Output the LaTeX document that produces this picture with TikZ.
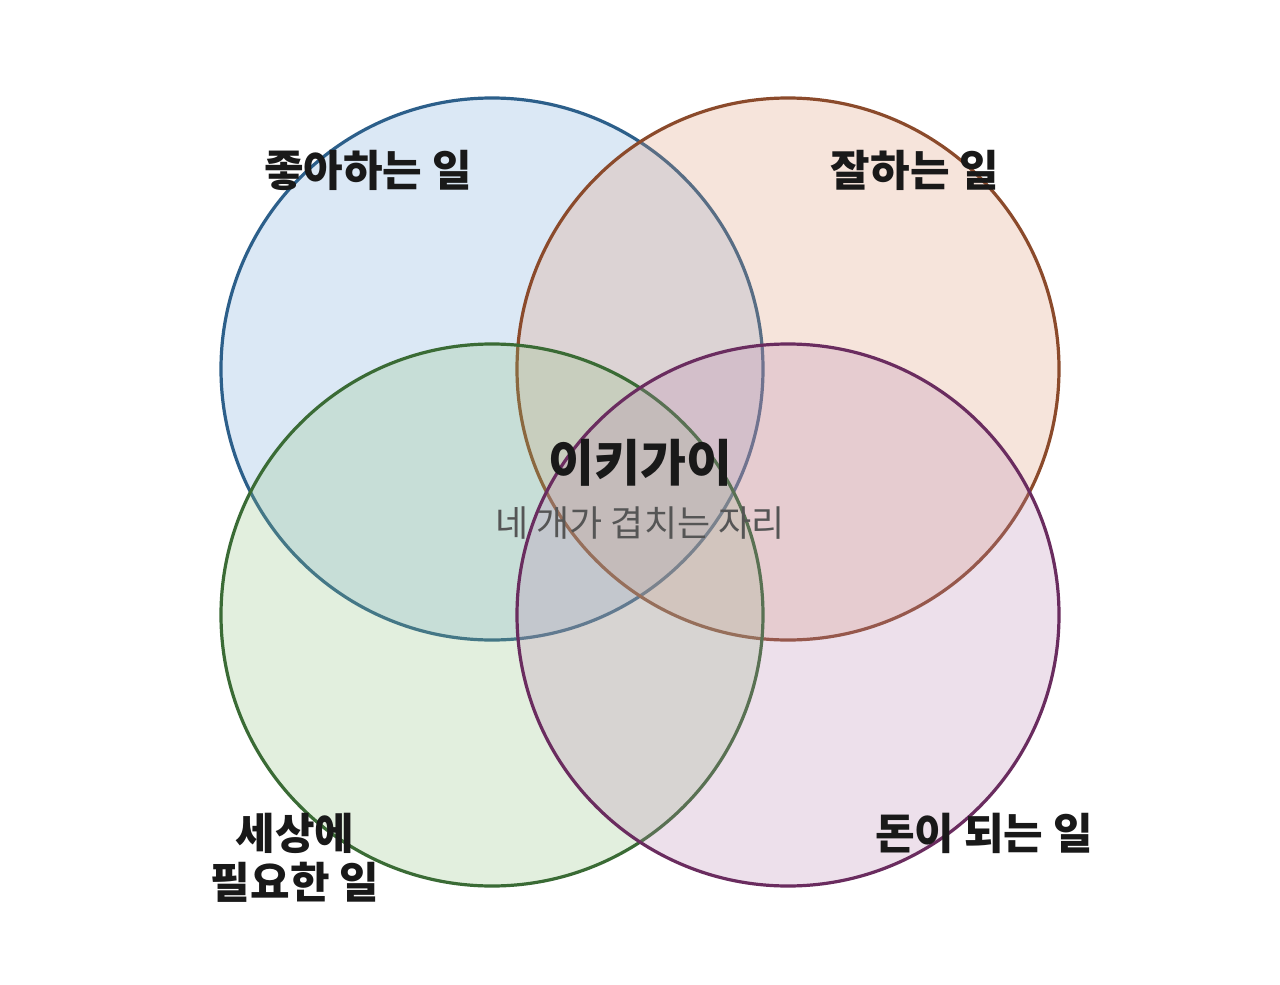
\documentclass[tikz,border=0pt]{standalone}
\usepackage{fontspec}
\setmainfont{Noto Sans CJK KR}
\newfontfamily\kr{Noto Sans CJK KR}
\definecolor{bstroke}{HTML}{2C5F8A}
\definecolor{bfill}{HTML}{73A7DB}
\definecolor{ostroke}{HTML}{8B4A2B}
\definecolor{ofill}{HTML}{DF9773}
\definecolor{gstroke}{HTML}{3A6B35}
\definecolor{gfill}{HTML}{8EC27E}
\definecolor{pstroke}{HTML}{6A2C5F}
\definecolor{pfill}{HTML}{B985B0}
\definecolor{subgrey}{HTML}{555555}
\begin{document}
\begin{tikzpicture}[x=1pt,y=-1pt,
  venn/.style={line width=3.2pt,fill opacity=0.25,draw opacity=1},
  lab/.style={font=\kr\bfseries\fontsize{43}{49}\selectfont,text=black!90,align=center,inner sep=0pt},
]
\useasboundingbox (0,0) rectangle (1280,985);
\fill[white] (0,0) rectangle (1280,985);
\draw[venn,draw=bstroke,fill=bfill] (492,369) circle[radius=271] coordinate (c1);
\draw[venn,draw=ostroke,fill=ofill] (788,369) circle[radius=271] coordinate (c2);
\draw[venn,draw=gstroke,fill=gfill] (492,615) circle[radius=271] coordinate (c3);
\draw[venn,draw=pstroke,fill=pfill] (788,615) circle[radius=271] coordinate (c4);
\node[lab] (l1) at (368,170) {좋아하는 일};
\node[lab] (l2) at (915,170) {잘하는 일};
\node[lab] (l3) at (295,858) {세상에\\필요한 일};
\node[lab] (l4) at (984,833) {돈이 되는 일};
\node[lab,font=\kr\bfseries\fontsize{50}{56}\selectfont] (t) at (640,463) {이키가이};
\node[inner sep=0pt,text=subgrey,font=\kr\fontsize{36}{42}\selectfont] (s) at (640,523) {네 개가 겹치는 자리};
\end{tikzpicture}
\end{document}
